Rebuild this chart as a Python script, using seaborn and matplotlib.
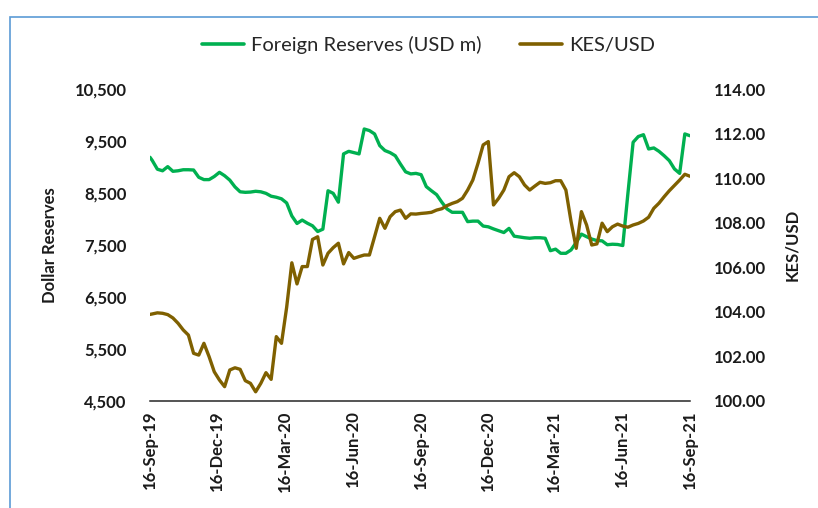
import numpy as np
import pandas as pd
import matplotlib
matplotlib.use("Agg")
import matplotlib.pyplot as plt
import matplotlib.dates as mdates
from matplotlib.patches import Rectangle
from matplotlib.lines import Line2D
import seaborn as sns

# ---------------- data ----------------
dates = [pd.Timestamp("2019-09-16")] + list(pd.date_range("2019-09-19", periods=105, freq="7D"))

reserves = [
    9190, 9130, 8960, 8930, 9010, 8920, 8930, 8950, 8950, 8945,
    8805, 8760, 8760, 8820, 8900, 8835, 8750, 8620, 8525, 8515,
    8520, 8535, 8525, 8495, 8440, 8420, 8390, 8310, 8060, 7915,
    7980, 7920, 7870, 7760, 7805, 8545, 8495, 8325, 9255, 9305,
    9280, 9255, 9735, 9705, 9640, 9415, 9320, 9280, 9220, 9060,
    8910, 8870, 8880, 8855, 8625, 8545, 8470, 8325, 8195, 8130,
    8130, 8130, 7950, 7960, 7960, 7865, 7850, 7810, 7775, 7740,
    7820, 7670, 7655, 7640, 7630, 7640, 7640, 7630, 7390, 7420,
    7340, 7340, 7405, 7550, 7710, 7660, 7615, 7585, 7580, 7505,
    7515, 7510, 7490, 8500, 9480, 9590, 9625, 9350, 9370, 9305,
    9220, 9125, 8965, 8880, 9640, 9605,
]

kes_usd = [
    103.88, 103.90, 103.95, 103.93, 103.87, 103.72, 103.48, 103.18, 102.95, 102.13,
    102.05, 102.58, 101.98, 101.30, 100.93, 100.63, 101.38, 101.48, 101.41, 100.90,
    100.78, 100.40, 100.78, 101.26, 100.96, 102.88, 102.58, 104.20, 106.20, 105.25,
    106.03, 106.03, 107.25, 107.37, 106.10, 106.63, 106.88, 107.08, 106.15, 106.66,
    106.40, 106.48, 106.55, 106.55, 107.37, 108.20, 107.75, 108.27, 108.50, 108.57,
    108.20, 108.40, 108.39, 108.42, 108.44, 108.47, 108.57, 108.63, 108.77, 108.87,
    108.95, 109.10, 109.47, 109.92, 110.67, 111.50, 111.65, 108.80, 109.10, 109.47,
    110.07, 110.25, 110.07, 109.70, 109.47, 109.65, 109.82, 109.77, 109.80, 109.89,
    109.89, 109.47, 108.05, 106.85, 108.50, 107.90, 107.00, 107.05, 107.98, 107.60,
    107.82, 107.94, 107.85, 107.80, 107.90, 107.97, 108.08, 108.25, 108.65, 108.88,
    109.17, 109.44, 109.68, 109.92, 110.18, 110.09,
]

tick_dates = ["2019-09-16", "2019-12-16", "2020-03-16", "2020-06-16", "2020-09-16",
              "2020-12-16", "2021-03-16", "2021-06-16", "2021-09-16"]
tick_labels = ["16-Sep-19", "16-Dec-19", "16-Mar-20", "16-Jun-20", "16-Sep-20",
               "16-Dec-20", "16-Mar-21", "16-Jun-21", "16-Sep-21"]
left_ticks = [4500, 5500, 6500, 7500, 8500, 9500, 10500]
right_ticks = [100, 102, 104, 106, 108, 110, 112, 114]

series_names = ["Foreign Reserves (USD m)", "KES/USD"]
GREEN = "#00B050"
BROWN = "#7F6000"

# ---------------- plot ----------------
sns.set_theme(style="white")
plt.rcParams["font.family"] = ["Lato", "DejaVu Sans"]

W, H = 818, 508
fig = plt.figure(figsize=(W / 100, H / 100), dpi=100)
ax = fig.add_axes([150 / W, 1 - 400.7 / H, 540 / W, 311.4 / H])

df = pd.DataFrame({"date": dates, "reserves": reserves, "kes": kes_usd})

sns.lineplot(data=df, x="date", y="reserves", ax=ax, color=GREEN, linewidth=2.4)
ax2 = ax.twinx()
sns.lineplot(data=df, x="date", y="kes", ax=ax2, color=BROWN, linewidth=2.4)

ax.set_xlim(pd.Timestamp("2019-09-16"), pd.Timestamp("2021-09-16"))
ax.set_ylim(4500, 10500)
ax2.set_ylim(100, 114)

ax.set_xticks([mdates.date2num(pd.Timestamp(d)) for d in tick_dates])
ax.set_xticklabels(tick_labels, rotation=90, fontsize=12, fontweight="bold", color="#1a1a1a")
ax.set_yticks(left_ticks)
ax.set_yticklabels([f"{v:,}" for v in left_ticks], fontsize=12, fontweight="bold", color="#1a1a1a")
ax2.set_yticks(right_ticks)
ax2.set_yticklabels([f"{v:.2f}" for v in right_ticks], fontsize=12, fontweight="bold", color="#1a1a1a")

ax.tick_params(axis="x", length=0, pad=7)
ax.tick_params(axis="y", length=0, pad=17)
ax2.tick_params(axis="y", length=0, pad=17)

ax.set_xlabel("")
ax.set_ylabel("Dollar Reserves", fontsize=12, fontweight="bold", color="#1a1a1a")
ax2.set_ylabel("KES/USD", fontsize=12, fontweight="bold", color="#1a1a1a")
ax.yaxis.set_label_coords(-0.170, 0.5)
ax2.yaxis.set_label_coords(1.174, 0.5)

for a in (ax, ax2):
    a.grid(False)
    for s in ("top", "left", "right"):
        a.spines[s].set_visible(False)
ax.spines["bottom"].set_color("#262626")
ax.spines["bottom"].set_linewidth(1.1)
ax2.spines["bottom"].set_visible(False)

handles = [Line2D([0], [0], color=GREEN, lw=2.6), Line2D([0], [0], color=BROWN, lw=2.6)]
fig.legend(handles, series_names, loc="center", bbox_to_anchor=(0.524, 1 - 45 / H),
           ncol=2, frameon=False, fontsize=14.5, handlelength=2.1, handletextpad=0.35,
           columnspacing=1.9)

fig.patches.append(Rectangle((10 / W, -0.05), 1.2, 1 - 17 / H + 0.05, transform=fig.transFigure,
                             fill=False, edgecolor="#5B9BD5", linewidth=1.2))

fig.savefig("out.png", dpi=100)
